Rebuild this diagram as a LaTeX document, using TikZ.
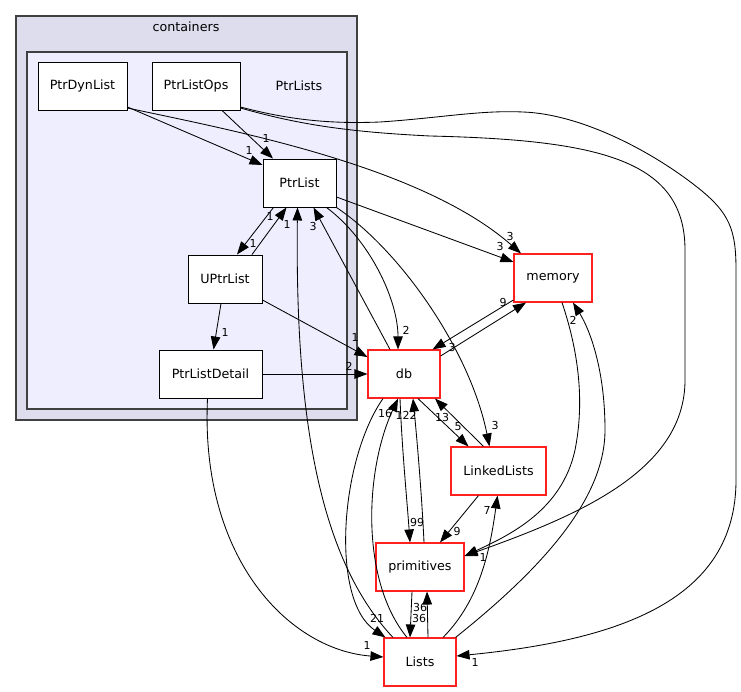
\documentclass[tikz,border=0pt]{standalone}
\usepackage{fontspec}
\setmainfont{DejaVu Sans}
\usetikzlibrary{arrows.meta,calc}
\definecolor{outerfill}{HTML}{DDDDEE}
\definecolor{innerfill}{HTML}{EEEEFF}
\definecolor{clborder}{HTML}{404040}
\definecolor{extred}{HTML}{FF2020}
\tikzset{
  nd/.style={draw=black, fill=white, line width=0.95pt, minimum height=48pt, inner sep=0pt, font=\fontsize{12.7}{14}\selectfont},
  ext/.style={nd, draw=extred, line width=1.1pt},
  dep/.style={draw=black, line width=0.85pt, -{Triangle[length=13pt,width=9.5pt]}},
  lbl/.style={font=\fontsize{11}{12}\selectfont, inner sep=0pt},
  cltext/.style={font=\fontsize{12.7}{14}\selectfont, inner sep=0pt},
}
\begin{document}
\begin{tikzpicture}[x=1pt,y=-1pt]
\useasboundingbox (0,0) rectangle (741,692);
% clusters
\draw[fill=outerfill, draw=clborder, line width=1.2pt] (16,16) rectangle (357,420);
\node[cltext] (containersLabel) at (186,27) {containers};
\draw[fill=innerfill, draw=clborder, line width=1.2pt] (27,52) rectangle (347,409);
\node[cltext] (PtrListsLabel) at (299,86) {PtrLists};
% nodes
\node[nd, minimum width=89pt] (PtrDynList) at (82.5,86) {PtrDynList};
\node[nd, minimum width=88pt] (PtrListOps) at (196,86) {PtrListOps};
\node[nd, minimum width=73pt] (PtrList) at (299.5,183) {PtrList};
\node[nd, minimum width=74pt] (UPtrList) at (225,279) {UPtrList};
\node[nd, minimum width=103pt] (PtrListDetail) at (210.5,374) {PtrListDetail};
\node[ext, minimum width=72pt] (db) at (404,374) {db};
\node[ext, minimum width=78pt] (memory) at (553,278) {memory};
\node[ext, minimum width=95pt] (LinkedLists) at (498.5,471) {LinkedLists};
\node[ext, minimum width=88pt] (primitives) at (420,567) {primitives};
\node[ext, minimum width=72pt] (Lists) at (420,662) {Lists};
% edges
\draw[dep] ($(PtrDynList.east)+(0,21)$) -- ($(PtrList.west)+(0,-18)$);
\draw[dep] ($(PtrListOps.south)+(26,0)$) -- ($(PtrList.north)+(-26.5,0)$);
\draw[dep] ($(PtrDynList.east)+(0,22)$) .. controls (230,130) and (420,165) .. ($(memory.north)+(-32,0)$);
\draw[dep] ($(PtrList.east)+(0,14)$) -- ($(memory.west)+(0,-16)$);
\draw[dep] ($(PtrListOps.east)+(0,21)$) .. controls (290,120) and (330,124) .. (380,122)
   .. controls (440,118) and (480,110) .. (523,112)
   .. controls (580,114) and (650,150) .. (697,187)
   .. controls (730,213) and (736,230) .. (736,270) -- (736,480)
   .. controls (736,600) and (620,640) .. ($(Lists.east)+(0,-6)$);
\draw[dep] ($(PtrListOps.east)+(0,22)$) .. controls (300,125) and (350,132) .. (430,136)
   .. controls (600,140) and (685,160) .. (685,250) -- (685,380)
   .. controls (685,470) and (580,515) .. ($(primitives.east)+(0,-11)$);
\draw[dep] ($(memory.south)+(9,0)$) .. controls (578,350) and (585,400) .. (575,450)
   .. controls (562,510) and (510,535) .. ($(primitives.east)+(0,-11)$);
\draw[dep] ($(Lists.north east)+(-1,0)$) .. controls (540,570) and (605,500) .. (605,430)
   .. controls (605,370) and (590,330) .. ($(memory.south)+(20,0)$);
\draw[dep] ($(Lists.north)+(23,0)$) .. controls (480,600) and (490,550) .. ($(LinkedLists.south)+(-1,0)$);
\draw[dep] ($(LinkedLists.south)+(-20,0)$) -- ($(primitives.north)+(20,0)$);
\draw[dep] ($(db.south)+(14,0)$) -- ($(LinkedLists.north)+(-30,0)$);
\draw[dep] ($(LinkedLists.north)+(-15,0)$) -- ($(db.south)+(31,0)$);
\draw[dep] (PtrList.south east) .. controls (400,250) and (470,350) .. ($(LinkedLists.north)+(-9,0)$);
\draw[dep] ($(PtrList.south)+(27,0)$) .. controls (370,240) and (398,300) .. ($(db.north)+(-6,0)$);
\draw[dep] ($(db.north)+(-14,0)$) -- ($(PtrList.south)+(14,0)$);
\draw[dep] ($(PtrList.south)+(-26,0)$) -- ($(UPtrList.north)+(12,0)$);
\draw[dep] ($(UPtrList.north)+(27,0)$) -- ($(PtrList.south)+(-13,0)$);
\draw[dep] ($(Lists.north)+(-27,0)$) .. controls (320,560) and (295,420) .. ($(PtrList.south)+(-2,0)$);
\draw[dep] ($(UPtrList.south)+(-4,0)$) -- ($(PtrListDetail.north)+(3,0)$);
\draw[dep] ($(UPtrList.east)+(0,21)$) -- ($(db.west)+(0,-17)$);
\draw[dep] (PtrListDetail.east) -- (db.west);
\draw[dep] ($(PtrListDetail.south)+(-3,0)$) .. controls (200,560) and (290,650) .. ($(Lists.west)+(0,-5)$);
\draw[dep] ($(db.south)+(-21,0)$) .. controls (340,460) and (330,600) .. ($(Lists.north west)+(2,0)$);
\draw[dep] ($(Lists.north)+(-13,0)$) .. controls (360,580) and (365,470) .. ($(db.south)+(-6,0)$);
\draw[dep] ($(db.south)+(-4,0)$) .. controls (402,450) and (407,500) .. ($(primitives.north)+(-10,0)$);
\draw[dep] ($(primitives.north)+(4,0)$) .. controls (422,500) and (418,450) .. ($(db.south)+(9,0)$);
\draw[dep] ($(primitives.south)+(-8,0)$) -- ($(Lists.north)+(-10,0)$);
\draw[dep] ($(Lists.north)+(8,0)$) -- ($(primitives.south)+(7,0)$);
\draw[dep] ($(memory.west)+(0,22)$) -- ($(db.north east)+(-8,0)$);
\draw[dep] ($(db.east)+(0,-18)$) -- ($(memory.south)+(-27,0)$);
% labels
\node[lbl] (l1) at (249,150) {1};
\node[lbl] (l2) at (266,138) {1};
\node[lbl] (l3) at (510,236) {3};
\node[lbl] (l4) at (500,246) {3};
\node[lbl] (l5) at (475,662) {1};
\node[lbl] (l6) at (483,557) {1};
\node[lbl] (l7) at (573,320) {2};
\node[lbl] (l8) at (487,510) {7};
\node[lbl] (l9) at (457,531) {9};
\node[lbl] (l10) at (458,427) {5};
\node[lbl] (l11) at (442,417) {13};
\node[lbl] (l12) at (495,425) {3};
\node[lbl] (l13) at (406,330) {2};
\node[lbl] (l14) at (313,226) {3};
\node[lbl] (l15) at (253,243) {1};
\node[lbl] (l16) at (270,216) {1};
\node[lbl] (l17) at (287,224) {1};
\node[lbl] (l18) at (225,332) {1};
\node[lbl] (l19) at (355,337) {1};
\node[lbl] (l20) at (349,366) {2};
\node[lbl] (l21) at (367,645) {1};
\node[lbl] (l22) at (377,618) {21};
\node[lbl] (l23) at (385,413) {16};
\node[lbl] (l24) at (417,522) {99};
\node[lbl] (l25) at (406,415) {122};
\node[lbl] (l26) at (420,607) {36};
\node[lbl] (l27) at (419,618) {36};
\node[lbl] (l28) at (452,347) {3};
\node[lbl] (l29) at (503,302) {9};
\end{tikzpicture}
\end{document}
